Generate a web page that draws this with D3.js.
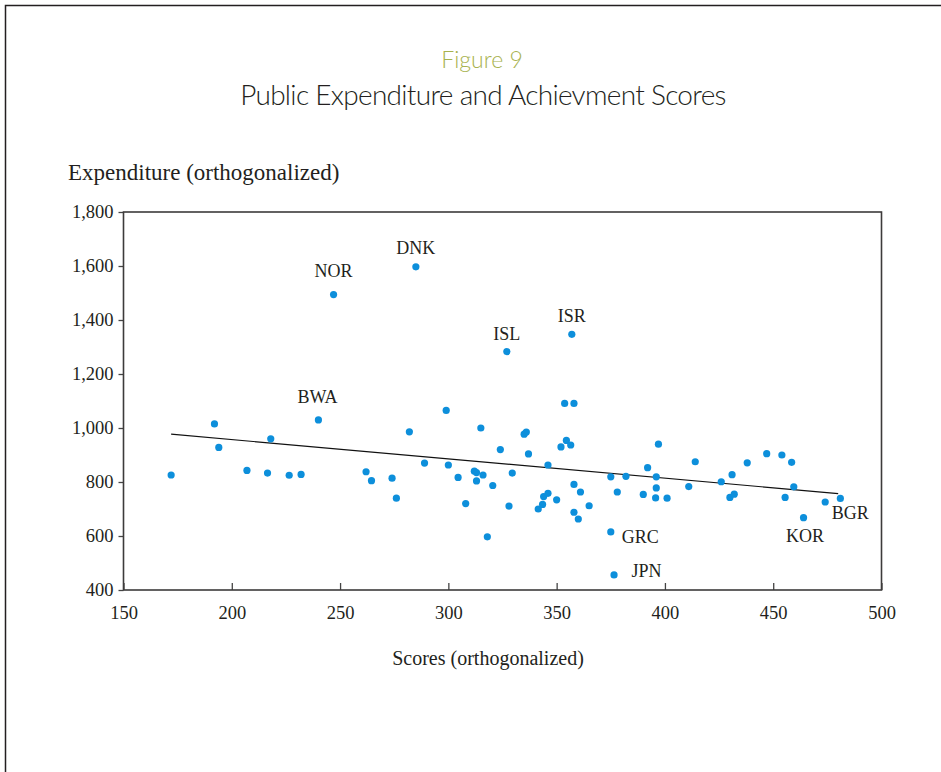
<!DOCTYPE html>
<html>
<head>
<meta charset="utf-8">
<script src="https://cdn.jsdelivr.net/npm/d3@7"></script>
<style>
	body { margin: 0; background: #fff; }
	svg { display: block; }
	.tick text { font-family: "Liberation Serif", "Times New Roman", serif; font-size: 18.5px; fill: #231f20; }
	.tick line { stroke: #444; stroke-width: 1.3; }
	.axis-title { font-family: "Liberation Serif", "Times New Roman", serif; fill: #231f20; }
	.code { font-family: "Liberation Serif", "Times New Roman", serif; font-size: 18px; fill: #231f20; }
	.fig-title { font-family: Lato, "Open Sans", sans-serif; font-weight: 300; }
</style>
</head>
<body>
<svg width="941" height="772"></svg>
<script>
// Figure 9 data: scores vs. expenditure (both orthogonalized)
const scores = [172, 192, 194, 207, 216.5, 218, 226.5, 232, 240, 247,
	262, 264.5, 274, 276, 282, 285, 289, 299, 300, 304.5,
	308, 312, 313, 313, 315, 316, 318, 320.5, 324, 327,
	328, 329.5, 335, 336, 337, 341.5, 343.5, 344, 346, 346,
	350, 352, 353.7, 354.5, 356.5, 357, 358, 358, 358, 360,
	361, 365, 375, 375, 376.5, 378, 382, 390, 392, 395.7,
	396, 396, 397, 401, 411, 414, 426, 430, 431, 432,
	438, 447, 454, 455.5, 458.5, 459.5, 464, 474, 481];

const expenditure = [826, 1015, 928, 843, 833, 960, 825, 828, 1030, 1494,
	838, 805, 814, 740, 986, 1597, 870, 1065, 863, 817,
	720, 840, 835, 804, 1000, 826, 597, 787, 920, 1283,
	711, 833, 977, 985, 904, 700, 717, 746, 758, 863,
	734, 930, 1091, 954, 937, 1347, 1091, 791, 688, 663,
	763, 712, 819, 615, 456, 763, 821, 754, 853, 741,
	819, 778, 940, 740, 783, 875, 801, 743, 827, 755,
	871, 905, 900, 743, 873, 782, 668, 726, 739];

const codes = ["", "", "", "", "", "", "", "", "BWA", "NOR",
	"", "", "", "", "", "DNK", "", "", "", "",
	"", "", "", "", "", "", "", "", "", "ISL",
	"", "", "", "", "", "", "", "", "", "",
	"", "", "", "", "", "ISR", "", "", "", "",
	"", "", "", "GRC", "JPN", "", "", "", "", "",
	"", "", "", "", "", "", "", "", "", "",
	"", "", "", "", "", "", "KOR", "", "BGR"];

// fitted line end points
const trendScores = [172, 480];
const trendExpenditure = [977, 757];

const xTicks = [150, 200, 250, 300, 350, 400, 450, 500];
const yTicks = [400, 600, 800, 1000, 1200, 1400, 1600, 1800];

const svg = d3.select("svg");

// outer frame of the figure
svg.append("rect")
	.attr("x", 5.5).attr("y", 5.5)
	.attr("width", 1000).attr("height", 1000)
	.attr("fill", "none")
	.attr("stroke", "#231f20")
	.attr("stroke-width", 1.5);

svg.append("text")
	.attr("class", "fig-title")
	.attr("x", 482).attr("y", 68)
	.attr("text-anchor", "middle")
	.style("font-size", "23px")
	.style("fill", "#a7b24e")
	.text("Figure 9");

svg.append("text")
	.attr("class", "fig-title")
	.attr("x", 483).attr("y", 105)
	.attr("text-anchor", "middle")
	.style("font-size", "28px")
	.style("letter-spacing", "-0.7px")
	.style("fill", "#231f20")
	.text("Public Expenditure and Achievment Scores");

const x = d3.scaleLinear()
	.domain([150, 500])
	.range([123.5, 881.5]);

const y = d3.scaleLinear()
	.domain([400, 1800])
	.range([590, 212]);

const xAxis = d3.axisBottom(x)
	.tickValues(xTicks)
	.tickSize(-7)
	.tickPadding(16);

const yAxis = d3.axisLeft(y)
	.tickValues(yTicks)
	.tickSize(5)
	.tickPadding(5)
	.tickFormat(d3.format(","));

svg.append("g")
	.attr("class", "x axis")
	.attr("transform", "translate(0," + y(400) + ")")
	.call(xAxis)
	.call(g => g.select(".domain").remove());

svg.append("g")
	.attr("class", "y axis")
	.attr("transform", "translate(" + x(150) + ",0)")
	.call(yAxis)
	.call(g => g.select(".domain").remove());

// plot box
svg.append("rect")
	.attr("x", x(150)).attr("y", y(1800))
	.attr("width", x(500) - x(150))
	.attr("height", y(400) - y(1800))
	.attr("fill", "none")
	.attr("stroke", "#3d3b3b")
	.attr("stroke-width", 1.6);

svg.append("text")
	.attr("class", "axis-title")
	.attr("x", 68).attr("y", 180)
	.style("font-size", "23px")
	.text("Expenditure (orthogonalized)");

svg.append("text")
	.attr("class", "axis-title")
	.attr("x", 488).attr("y", 665)
	.attr("text-anchor", "middle")
	.style("font-size", "20px")
	.text("Scores (orthogonalized)");

// trend line
svg.append("line")
	.attr("x1", x(trendScores[0])).attr("y1", y(trendExpenditure[0]))
	.attr("x2", x(trendScores[1])).attr("y2", y(trendExpenditure[1]))
	.attr("stroke", "#111")
	.attr("stroke-width", 1.2);

const points = scores.map(function(d, i) {
	return {score: d, exp: expenditure[i], code: codes[i]};
});

svg.append("g")
	.attr("class", "dots")
	.selectAll("circle")
	.data(points)
	.enter().append("circle")
	.attr("cx", function(d) { return x(d.score); })
	.attr("cy", function(d) { return y(d.exp); })
	.attr("r", 3.6)
	.style("fill", "#0d8fdb");

// label placement: dx, dy, anchor
const labelPos = {
	NOR: [0, -17.5, "middle"],
	DNK: [0, -12.5, "middle"],
	ISL: [0, -11.5, "middle"],
	ISR: [0, -12.5, "middle"],
	BWA: [-1, -16.5, "middle"],
	GRC: [11, 11, "start"],
	JPN: [17.5, 2, "start"],
	KOR: [1.5, 24.5, "middle"],
	BGR: [10, 21, "middle"]
};

svg.append("g")
	.attr("class", "labels")
	.selectAll("text")
	.data(points.filter(function(d) { return d.code !== ""; }))
	.enter().append("text")
	.attr("class", "code")
	.attr("x", function(d) { return x(d.score) + labelPos[d.code][0]; })
	.attr("y", function(d) { return y(d.exp) + labelPos[d.code][1]; })
	.attr("text-anchor", function(d) { return labelPos[d.code][2]; })
	.text(function(d) { return d.code; });
</script>
</body>
</html>
